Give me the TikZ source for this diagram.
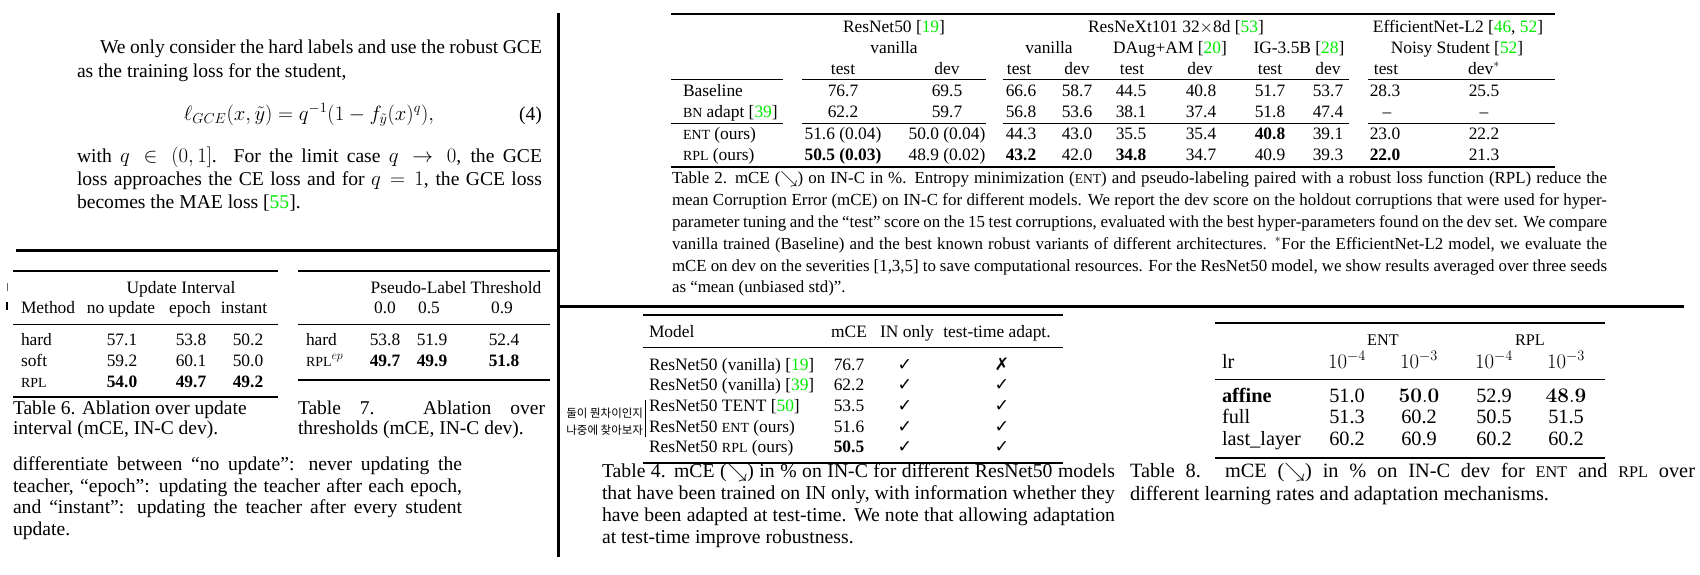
\documentclass[tikz,border=0pt]{standalone}
\usepackage[no-math]{fontspec}
\setmainfont{Liberation Serif}
\newfontfamily\cjk{Noto Sans CJK KR}
\newfontfamily\dejavu{DejaVu Sans}
\usepackage{graphicx}
\definecolor{citeg}{RGB}{0,235,0}
\newcommand\cg[1]{\textcolor{citeg}{#1}}
\newcommand\smc[1]{\scalebox{0.8}{#1}}
\newcommand\jl[2]{\makebox[#1][s]{#2}}
\newcommand\ck{{\dejavu ✓}}
\newcommand\xm{{\dejavu ✗}}
\newcommand\fpar{\fontsize{19.6}{23.5}\selectfont}
\newcommand\ftab{\fontsize{17.4}{21}\selectfont}
\newcommand\fcap{\fontsize{19.5}{20}\selectfont}
\newcommand\fcapT{\fontsize{16.9}{22}\selectfont}
\newcommand\fcapB{\fontsize{19.7}{22}\selectfont}
\newcommand\fte{\fontsize{20.3}{22}\selectfont}
\begin{document}
\begin{tikzpicture}[x=1pt,y=-1pt,
  tw/.style={inner sep=0pt,outer sep=0pt,anchor=base west},
  tc/.style={inner sep=0pt,outer sep=0pt,anchor=base},
  tr/.style={inner sep=0pt,outer sep=0pt,anchor=base east},
  divider/.style={line width=3pt},
  brule/.style={line width=1.6pt},
  lrule/.style={line width=0.9pt}]
\path[use as bounding box] (0,0) rectangle (1700,574);
\fill[white] (0,0) rectangle (1700,574);
% dividers
\draw[divider] (558,13) -- (558,557);
\draw[divider] (16,250) -- (558,250);
\draw[divider] (558,306) -- (1684,306);
% small fragments at the left edge
\draw[line width=0.8pt,black!60] (7,283) -- (7,291);
\draw[line width=1.2pt] (7,302) -- (7,310);
% ---------- top-left paragraph
\node[tw] (p1) at (100,53) {\fpar\jl{442pt}{We only consider the hard labels and use the robust GCE}};
\node[tw] (p2) at (77,77) {\fpar as the training loss for the student,};
\node[tc] (eq) at (309,120) {\fpar $\ell_{GCE}(x,\tilde{y}) = q^{-1}(1-f_{\tilde{y}}(x)^{q}),$};
\node[tr] (eqn) at (542,120) {\fpar (4)};
\node[tw] (p3) at (77,162) {\fpar\jl{465pt}{with $q \in (0,1]$. For the limit case $q \rightarrow 0$, the GCE}};
\node[tw] (p4) at (77,185) {\fpar\jl{465pt}{loss approaches the CE loss and for $q = 1$, the GCE loss}};
\node[tw] (p5) at (77,208) {\fpar becomes the MAE loss [\cg{55}].};
% ---------- Table 6
\draw[brule] (13,271) -- (278,271);
\node[tc] (t6h) at (181,293) {\ftab Update Interval};
\node[tw] (t6m) at (21,313) {\ftab Method};
\node[tc] (t6c1) at (121,313) {\ftab no update};
\node[tc] (t6c2) at (190,313) {\ftab epoch};
\node[tc] (t6c3) at (244,313) {\ftab instant};
\draw[lrule] (13,324) -- (278,324);
\node[tw] (t6r1) at (21,345) {\ftab hard};
\node[tw] (t6r2) at (21,366) {\ftab soft};
\node[tw] (t6r3) at (21,387) {\ftab\smc{RPL}};
\foreach \x/\v [count=\i] in {122/57.1,191/53.8,248/50.2}
  \node[tc] (t6a\i) at (\x,345) {\ftab\v};
\foreach \x/\v [count=\i] in {122/59.2,191/60.1,248/50.0}
  \node[tc] (t6b\i) at (\x,366) {\ftab\v};
\foreach \x/\v [count=\i] in {122/54.0,191/49.7,248/49.2}
  \node[tc] (t6d\i) at (\x,387) {\ftab\textbf{\v}};
\draw[brule] (13,397) -- (278,397);
\node[tw] (t6cap1) at (13,414) {\fcap Table 6. Ablation over update};
\node[tw] (t6cap2) at (13,434) {\fcap interval (mCE, IN-C dev).};
% ---------- Table 7
\draw[brule] (298,271) -- (550,271);
\node[tc] (t7h) at (456,293) {\ftab Pseudo-Label Threshold};
\node[tc] (t7c1) at (385,313) {\ftab 0.0};
\node[tc] (t7c2) at (429,313) {\ftab 0.5};
\node[tc] (t7c3) at (502,313) {\ftab 0.9};
\draw[lrule] (298,324) -- (550,324);
\node[tw] (t7r1) at (306,345) {\ftab hard};
\node[tw] (t7r2) at (306,366) {\ftab\smc{RPL}$^{ep}$};
\foreach \x/\v [count=\i] in {385/53.8,432/51.9,504/52.4}
  \node[tc] (t7a\i) at (\x,345) {\ftab\v};
\foreach \x/\v [count=\i] in {385/49.7,432/49.9,504/51.8}
  \node[tc] (t7b\i) at (\x,366) {\ftab\textbf{\v}};
\draw[brule] (298,380) -- (550,380);
\node[tw] (t7cap1) at (298,414) {\fcap\jl{247pt}{Table 7. Ablation over}};
\node[tw] (t7cap2) at (298,434) {\fcap thresholds (mCE, IN-C dev).};
% ---------- bottom-left paragraph
\node[tw] (b1) at (13,470) {\fpar\jl{449pt}{differentiate between “no update”: never updating the}};
\node[tw] (b2) at (13,492) {\fpar\jl{449pt}{teacher, “epoch”: updating the teacher after each epoch,}};
\node[tw] (b3) at (13,513) {\fpar\jl{449pt}{and “instant”: updating the teacher after every student}};
\node[tw] (b4) at (13,535) {\fpar update.};
% ---------- Table 2
\draw[brule] (671,14) -- (1555,14);
\node[tc] (t2g1) at (894,32) {\ftab ResNet50 [\cg{19}]};
\node[tc] (t2g2) at (1176,32) {\ftab ResNeXt101 32$\times$8d [\cg{53}]};
\node[tc] (t2g3) at (1458,32) {\ftab EfficientNet-L2 [\cg{46}, \cg{52}]};
\node[tc] (t2s1) at (894,53) {\ftab vanilla};
\node[tc] (t2s2) at (1049,53) {\ftab vanilla};
\node[tc] (t2s3) at (1170,53) {\ftab DAug+AM [\cg{20}]};
\node[tc] (t2s4) at (1299,53) {\ftab IG-3.5B [\cg{28}]};
\node[tc] (t2s5) at (1457,53) {\ftab Noisy Student [\cg{52}]};
\foreach \x/\v [count=\i] in {843/test,947/dev,1019/test,1077/dev,1132/test,1200/dev,1270/test,1328/dev,1386/test,1484/{dev$^*$}}
  \node[tc] (t2t\i) at (\x,74) {\ftab\v};
\foreach \y in {79,123}{
  \draw[lrule] (671,\y) -- (783,\y);
  \draw[lrule] (802,\y) -- (986,\y);
  \draw[lrule] (1003,\y) -- (1349,\y);
  \draw[lrule] (1368,\y) -- (1555,\y);}
\node[tw] (t2r1) at (683,96) {\ftab Baseline};
\node[tw] (t2r2) at (683,117) {\ftab\smc{BN} adapt [\cg{39}]};
\node[tw] (t2r3) at (683,139) {\ftab\smc{ENT} (ours)};
\node[tw] (t2r4) at (683,160) {\ftab\smc{RPL} (ours)};
\foreach \x/\v [count=\i] in {843/76.7,947/69.5,1021/66.6,1077/58.7,1131/44.5,1201/40.8,1270/51.7,1328/53.7,1385/28.3,1484/25.5}
  \node[tc] (t2a\i) at (\x,96) {\ftab\v};
\foreach \x/\v [count=\i] in {843/62.2,947/59.7,1021/56.8,1077/53.6,1131/38.1,1201/37.4,1270/51.8,1328/47.4,1387/–,1484/–}
  \node[tc] (t2b\i) at (\x,117) {\ftab\v};
\foreach \x/\v [count=\i] in {843/51.6 (0.04),947/50.0 (0.04),1021/44.3,1077/43.0,1131/35.5,1201/35.4,1270/\textbf{40.8},1328/39.1,1385/23.0,1484/22.2}
  \node[tc] (t2c\i) at (\x,139) {\ftab\v};
\foreach \x/\v [count=\i] in {843/\textbf{50.5 (0.03)},947/48.9 (0.02),1021/\textbf{43.2},1077/42.0,1131/\textbf{34.8},1201/34.7,1270/40.9,1328/39.3,1385/\textbf{22.0},1484/21.3}
  \node[tc] (t2d\i) at (\x,160) {\ftab\v};
\draw[brule] (671,167) -- (1555,167);
\node[tw] (c2a) at (672,183) {\fcapT\jl{935pt}{Table 2. mCE ($\searrow$) on IN-C in \%. Entropy minimization (\smc{ENT}) and pseudo-labeling paired with a robust loss function (RPL) reduce the}};
\node[tw] (c2b) at (672,205) {\fcapT\jl{935pt}{mean Corruption Error (mCE) on IN-C for different models. We report the dev score on the holdout corruptions that were used for hyper-}};
\node[tw] (c2c) at (672,227) {\fcapT\jl{935pt}{parameter tuning and the “test” score on the 15 test corruptions, evaluated with the best hyper-parameters found on the dev set. We compare}};
\node[tw] (c2d) at (672,249) {\fcapT\jl{935pt}{vanilla trained (Baseline) and the best known robust variants of different architectures. $^*$For the EfficientNet-L2 model, we evaluate the}};
\node[tw] (c2e) at (672,271) {\fcapT\jl{935pt}{mCE on dev on the severities [1,3,5] to save computational resources. For the ResNet50 model, we show results averaged over three seeds}};
\node[tw] (c2f) at (672,292) {\fcapT as “mean (unbiased std)”.};
% ---------- Korean note
\begin{scope}
  \clip (567,398) rectangle (644,442);
  \node[tr] (kr1) at (643,417) {\cjk\fontsize{11.5}{14}\selectfont 둘이 뭔차이인지};
  \node[tr] (kr2) at (643,434) {\cjk\fontsize{11.5}{14}\selectfont 나중에 찾아보자};
\end{scope}
\draw[line width=0.8pt] (645,400) -- (645,437);
% ---------- Table 4
\draw[brule] (643,315) -- (1063,315);
\node[tw] (t4m) at (649,337) {\ftab Model};
\node[tc] (t4c) at (849,337) {\ftab mCE};
\node[tc] (t4i) at (907,337) {\ftab IN only};
\node[tc] (t4t) at (997,337) {\ftab test-time adapt.};
\draw[lrule] (643,347) -- (1063,347);
\node[tw] (t4r1) at (649,370) {\ftab ResNet50 (vanilla) [\cg{19}]};
\node[tw] (t4r2) at (649,390) {\ftab ResNet50 (vanilla) [\cg{39}]};
\node[tw] (t4r3) at (649,411) {\ftab ResNet50 TENT [\cg{50}]};
\node[tw] (t4r4) at (649,432) {\ftab ResNet50 \smc{ENT} (ours)};
\node[tw] (t4r5) at (649,452) {\ftab ResNet50 \smc{RPL} (ours)};
\foreach \y/\v [count=\i] in {370/76.7,390/62.2,411/53.5,432/51.6,452/\textbf{50.5}}{
  \node[tc] (t4v\i) at (849,\y) {\ftab\v};
  \node[tc] (t4k\i) at (905,\y) {\ftab\ck};}
\node[tc] (t4x1) at (1002,370) {\ftab\xm};
\foreach \y [count=\i from 2] in {390,411,432,452}
  \node[tc] (t4x\i) at (1002,\y) {\ftab\ck};
\draw[brule] (643,463) -- (1063,463);
\node[tw] (c4a) at (602,477) {\fcapB\jl{513pt}{Table 4. mCE ($\searrow$) in \% on IN-C for different ResNet50 models}};
\node[tw] (c4b) at (602,499) {\fcapB\jl{513pt}{that have been trained on IN only, with information whether they}};
\node[tw] (c4c) at (602,521) {\fcapB\jl{513pt}{have been adapted at test-time. We note that allowing adaptation}};
\node[tw] (c4d) at (602,543) {\fcapB at test-time improve robustness.};
% ---------- Table 8
\draw[brule] (1215,323) -- (1605,323);
\node[tc] (t8e) at (1383,345) {\fte\smc{ENT}};
\node[tc] (t8r) at (1530,345) {\fte\smc{RPL}};
\node[tw] (t8lr) at (1222,368) {\fte lr};
\foreach \x/\v [count=\i] in {1347/-4,1419/-3,1494/-4,1566/-3}
  \node[tc] (t8h\i) at (\x,368) {\fte$10^{\v}$};
\draw[lrule] (1215,379) -- (1605,379);
\node[tw] (t8a) at (1222,402) {\fte\textbf{affine}};
\node[tw] (t8b) at (1222,423) {\fte full};
\node[tw] (t8c) at (1222,445) {\fte last\_layer};
\foreach \x/\v [count=\i] in {1347/51.0,1419/$\mathbf{50.0}$,1494/52.9,1566/$\mathbf{48.9}$}
  \node[tc] (t8a\i) at (\x,402) {\fte\v};
\foreach \x/\v [count=\i] in {1347/51.3,1419/60.2,1494/50.5,1566/51.5}
  \node[tc] (t8b\i) at (\x,423) {\fte\v};
\foreach \x/\v [count=\i] in {1347/60.2,1419/60.9,1494/60.2,1566/60.2}
  \node[tc] (t8c\i) at (\x,445) {\fte\v};
\draw[brule] (1215,458) -- (1605,458);
\node[tw] (c8a) at (1130,477) {\fte\jl{565pt}{Table 8. mCE ($\searrow$) in \% on IN-C dev for \smc{ENT} and \smc{RPL} over}};
\node[tw] (c8b) at (1130,500) {\fte different learning rates and adaptation mechanisms.};
\end{tikzpicture}
\end{document}
